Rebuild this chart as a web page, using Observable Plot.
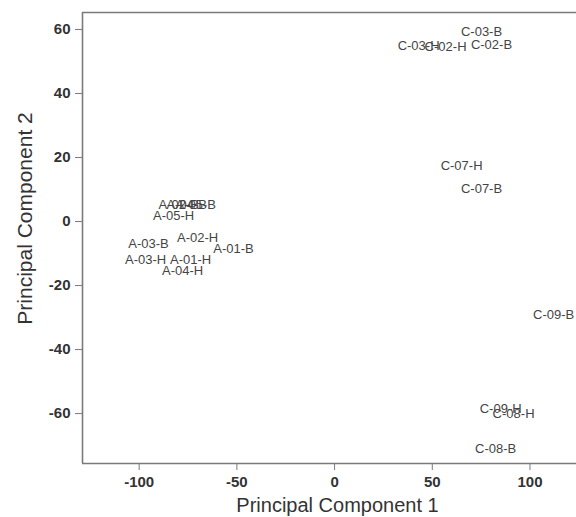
<!DOCTYPE html>
<html>
<head>
<meta charset="utf-8">
<script src="https://cdn.jsdelivr.net/npm/d3@7"></script>
<script src="https://cdn.jsdelivr.net/npm/@observablehq/plot@0.6"></script>
<style>
  html, body { margin: 0; padding: 0; background: #fff; }
  #chart svg { display: block; }
</style>
</head>
<body>
<div id="chart"></div>
<script>
const labels = ["C-03-B","C-03-H","C-02-H","C-02-B","C-07-H","C-07-B","C-09-B","C-09-H","C-08-H","C-08-B",
                "A-02-B","A-04-B","A-05-B","A-05-H","A-02-H","A-03-B","A-01-B","A-03-H","A-01-H","A-04-H"];
const pc1 = [75.2, 43.0, 56.8, 80.3, 65.0, 75.2, 112.1, 85.0, 91.6, 82.4,
             -79.8, -75.7, -71.1, -82.4, -70.1, -95.2, -51.7, -96.7, -73.7, -77.8];
const pc2 = [59.4, 55.0, 54.7, 55.3, 17.5, 10.3, -29.1, -58.4, -60.0, -70.9,
             5.3, 5.3, 5.3, 1.9, -5.0, -6.9, -8.4, -11.9, -11.9, -15.3];
const xTicks = [-100, -50, 0, 50, 100];
const yTicks = [-60, -40, -20, 0, 20, 40, 60];
const xDomain = [-129, 123.8];
const yDomain = [-75.6, 65.3];

const data = labels.map((l, i) => ({label: l, x: pc1[i], y: pc2[i]}));
const font = "'Liberation Sans', Arial, Helvetica, sans-serif";
const fmt = d => String(d);

const chart = Plot.plot({
  width: 576,
  height: 517,
  marginLeft: 82,
  marginRight: 0,
  marginTop: 12,
  marginBottom: 54,
  style: {fontFamily: font, background: "#fff"},
  x: {domain: xDomain},
  y: {domain: yDomain},
  marks: [
    Plot.ruleX([xDomain[0]], {stroke: "#7a7a7a", strokeWidth: 1.6}),
    Plot.ruleY([yDomain[0]], {stroke: "#7a7a7a", strokeWidth: 1.6}),
    Plot.ruleY([yDomain[1]], {stroke: "#7a7a7a", strokeWidth: 1.6}),
    Plot.axisX(xTicks, {tickSize: 7, tickPadding: 6, stroke: "#7a7a7a", fill: "#333",
      fontSize: 15, fontWeight: "bold", label: null, tickFormat: fmt}),
    Plot.axisY(yTicks, {tickSize: 7, tickPadding: 5, stroke: "#7a7a7a", fill: "#333",
      fontSize: 15, fontWeight: "bold", label: null, tickFormat: fmt}),
    Plot.text(["Principal Component 1"], {frameAnchor: "bottom", lineAnchor: "middle", dx: 8, dy: 42, fontSize: 20, fill: "#333"}),
    Plot.text(["Principal Component 2"], {frameAnchor: "left", textAnchor: "middle", lineAnchor: "middle", dx: -57, dy: -19.5, rotate: -90, fontSize: 21, fill: "#333"}),
    Plot.text(data, {x: "x", y: "y", text: "label", fontSize: 13, fill: "#444", textAnchor: "middle"})
  ]
});
document.getElementById("chart").append(chart);
</script>
</body>
</html>
